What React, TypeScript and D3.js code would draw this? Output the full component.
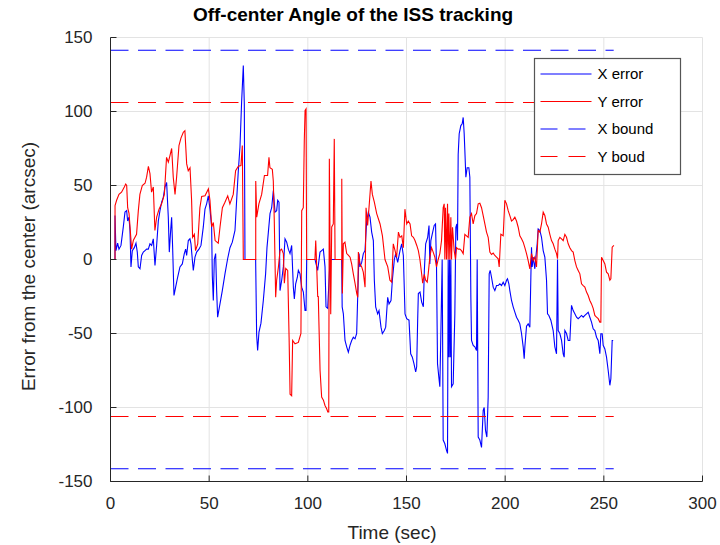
import React from "react";
import * as d3 from "d3";

// Off-center angle of the ISS tracking, [time (s), error (arcsec)]
const xError: [number, number][] = [
  [0, 0], [2.27, 0], [2.27, 29.7], [2.77, 6], [3.62, 11], [4.29, 7], [5.31, 9.5], [6.49, 22], [7.34, 32],
  [8.18, 33], [8.69, 26], [9.36, 28.6], [9.87, 19.6], [10.38, -5], [11.05, 6], [12.06, 8], [12.91, 11],
  [13.58, 5], [14.09, -5], [14.94, -6.3], [15.78, 2.7], [16.63, 5], [17.47, 6], [18.31, 7], [19.16, 7],
  [20.0, 10.6], [20.85, 9.5], [21.69, 14], [22.54, -4], [23.38, 9.5], [24.23, 26], [25.07, 33], [25.92, 38.7],
  [26.76, 42], [27.6, 49], [28.45, 52], [29.29, 28.6], [29.8, 5], [30.48, 19.6], [30.98, 28.6], [31.49, 8],
  [32.17, -24.3], [33.01, -18.7], [34.02, -12], [35.2, -5], [36.39, -3], [37.4, 4], [38.08, 7], [38.58, 2.7],
  [39.43, 12.8], [40.27, 14], [40.78, 10.6], [41.46, 0], [41.96, -7.4], [42.81, 1.6], [43.65, 5], [44.83, 7],
  [45.85, 9.5], [47.03, 22], [47.88, 34], [48.72, 37.6], [49.56, 43], [50.41, 34], [51.25, 22], [51.59, -11],
  [52.1, -27.7], [52.6, 0], [53.28, 4], [53.79, -21], [54.29, -39], [55.48, -30], [56.66, -21], [58.01, -9.7],
  [59.36, 0.5], [60.55, 8], [61.73, 11.7], [63.08, 19.6], [63.92, 40], [64.77, 60], [65.61, 76], [66.46, 107],
  [67.3, 131], [67.81, 105], [68.15, 0], [73.55, 0], [74.06, -51], [74.56, -61.5], [75.24, -49], [76.25, -43],
  [77.44, -27.7], [78.6, -9.7], [79.3, 8], [80.0, 18.5], [80.83, 31], [81.68, 35], [82.52, 46.6], [83.37, 32],
  [84.21, 33], [84.72, 40], [85.39, 38.7], [85.9, -21], [86.75, -14], [87.59, -5], [88.44, 14], [89.28, 11.7],
  [90.12, 7], [90.97, 4], [91.81, 9.5], [92.66, -18.7], [93.16, -26.6], [93.84, -16.4], [94.69, -12],
  [95.19, -7.4], [96.04, -9.7], [96.88, -18.7], [97.73, -22], [98.57, -34.5], [99.08, -34.5], [99.41, 0],
  [103.64, 0], [103.98, -2], [104.99, -7.4], [106.17, 5], [107.02, 6], [107.86, 7], [108.71, -5], [109.21, -32],
  [110.06, -33], [111.24, 0], [117.15, 0], [117.4, -32], [118.0, -36.7], [118.84, -54.7], [119.69, -59],
  [120.53, -62.6], [121.37, -58], [122.22, -54.7], [123.06, -52.5], [123.91, -53.6], [124.75, -50],
  [125.26, -25.5], [125.94, 4], [126.44, -5], [127.29, -2], [128.13, 4], [128.98, 6], [129.82, 26], [130.66, 32],
  [131.51, 28.6], [132.35, 18.5], [133.2, 12.8], [133.7, -14], [134.38, -32], [135.39, -36.7], [136.07, -34.5],
  [137.08, -45.7], [137.76, -50], [138.77, -48], [139.45, -45.7], [140.46, -25.5], [141.14, -30],
  [142.15, -27.7], [142.83, -14], [143.84, 0], [144.52, 4], [145.53, -2], [146.71, 6], [147.56, 10.6],
  [148.4, 2.7], [149.25, -36.7], [150.09, -40], [151.27, -41], [152.12, -63.7], [152.96, -66], [153.81, -70.5],
  [154.65, -76], [155.16, -72.5], [155.66, -41], [156.0, -23], [156.85, -22], [157.69, -28.8], [158.54, -32],
  [159.04, -7.4], [159.72, 10.6], [160.73, 15], [161.41, 23], [161.83, -3], [162.34, 12.8], [163.02, 17],
  [164.03, 23], [164.71, 24], [165.21, -5], [165.72, -70.5], [166.39, -79.5], [166.9, -86], [167.41, -50],
  [168.08, 0], [168.59, -122], [169.43, -124.5], [170.28, -129], [170.79, -131], [171.12, 0], [171.46, -66],
  [171.8, 0], [172.14, -66], [172.48, 0], [172.81, -86], [173.66, -84], [174.5, -36.7], [175.01, 21.8],
  [175.52, 24], [175.85, 12.8], [176.19, 71], [176.7, 85], [177.54, 90.5], [178.22, 91.7], [178.73, 96],
  [179.23, 85], [179.57, 73.6], [180.08, 55.6], [180.75, 62], [181.6, 62], [182.1, 55.6], [182.61, -25.5],
  [182.95, -54.7], [183.79, -58], [184.64, -59], [185.48, -61.5], [185.82, 0], [186.33, -120], [187.17, -122],
  [188.02, -127], [188.86, -102], [189.37, -100], [190.04, -115.5], [190.72, -120], [191.39, -93],
  [191.9, -9.7], [192.41, -7.4], [193.08, -12], [193.93, -18.7], [194.77, -21], [195.62, -17.6],
  [196.46, -17.6], [197.31, -16.4], [198.15, -17.6], [199.0, -15.3], [199.84, -17.6], [200.69, -14],
  [201.19, -13], [201.87, -16.4], [202.37, -21], [203.22, -27.7], [204.06, -32], [204.91, -35.6], [205.75, -39],
  [206.6, -41], [207.44, -43.5], [208.29, -50], [209.13, -59], [209.64, -67], [209.98, -59], [210.82, -45],
  [211.66, -43.5], [212.51, -45.7], [213.02, -12], [213.35, 8.3], [213.69, -5], [214.2, 1.6], [215.04, -6.3],
  [215.55, 1.6], [216.23, 10.6], [216.73, 20.7], [217.58, 19.6], [218.42, 15], [219.27, 6], [220.11, 1.6],
  [220.96, -14], [221.46, -36.7], [222.14, -37.8], [223.15, -41], [224.33, -48], [225.18, -59], [226.02, -63.7],
  [226.53, 0], [226.87, -48], [227.71, -50], [228.56, -54.7], [229.4, -63.7], [229.91, -66], [230.25, -48],
  [231.09, -50], [231.94, -54.7], [232.78, -54.7], [233.62, -31], [234.47, -34.5], [235.31, -36.7],
  [236.16, -39], [237.0, -40], [237.85, -39], [238.69, -37.8], [239.54, -39], [240.38, -37.8], [241.23, -36.7],
  [242.07, -35.6], [242.91, -39], [243.76, -42.3], [244.6, -46.8], [245.45, -48], [246.29, -52.5],
  [247.14, -54.7], [247.98, -63.7], [248.49, -50.2], [249.16, -50.2], [249.67, -58], [250.52, -60.4],
  [251.36, -66], [252.21, -75], [253.05, -85], [253.56, -80.6], [254.23, -54.7], [254.74, -54.7],
];

const yError: [number, number][] = [
  [0, 0], [2.3, 0], [2.3, 36.5], [3.1, 40], [4.3, 44], [5.6, 45.5], [7.0, 49], [7.7, 51], [8.2, 50], [8.7, 35],
  [9.4, 31], [9.9, 22], [10.7, 7], [11.6, 13], [13.2, 17], [14.1, 33], [14.9, 44], [16.1, 50], [17.5, 51.5],
  [18.3, 55.6], [19.2, 63], [20.0, 58], [20.8, 45.5], [21.7, 49], [22.5, 19.6], [23.4, 28.6], [24.6, 34],
  [25.9, 37.6], [27.3, 44], [28.4, 69], [29.3, 65.8], [30.1, 70], [31.0, 75], [31.8, 55.6], [32.7, 44],
  [33.5, 55.6], [34.7, 77], [35.7, 82], [36.9, 86], [37.7, 87], [38.6, 64.6], [39.4, 60], [40.3, 62], [41.1, 40],
  [41.6, 15], [42.5, 17], [43.1, 6], [44.2, 10.6], [45.3, 35], [46.2, 42.6], [47.9, 43], [49.6, 47.7], [50.4, 40],
  [51.3, 22], [52.1, 25], [53.0, 12.8], [54.6, 11], [55.5, 22], [56.7, 35], [58.0, 38.7], [59.4, 43],
  [60.5, 37.6], [62.2, 44], [63.4, 60], [64.8, 63], [66.1, 63.5], [66.8, 77], [67.3, 0], [73.6, 0], [73.6, 53],
  [74.1, 28.6], [75.2, 37.6], [76.6, 44], [78.0, 56.8], [79.6, 56.8], [80.3, 69], [80.8, 62], [82.0, 61],
  [82.5, 53], [83.0, 26], [83.7, -25.5], [84.2, -14], [85.1, -5], [85.9, 6], [86.7, 7], [87.6, 4], [88.1, -16],
  [88.8, -6], [89.8, -7.4], [90.5, -52.5], [91.0, -91], [91.8, -92], [92.3, -54.7], [93.5, -57], [95.2, -56],
  [96.5, -50], [96.9, 33], [97.7, 35], [98.2, 80], [98.6, 100.7], [99.1, 101.8], [99.4, 0], [103.6, 0],
  [104.0, 12.8], [104.5, -5], [105.0, -25], [105.3, -25], [106.2, -75], [107.0, -93], [107.9, -95],
  [108.7, -98.6], [109.6, -101], [110.1, -103], [110.6, -103], [110.9, 68], [111.2, 20], [111.6, -37],
  [112.1, 22], [112.9, 24], [113.4, 81.5], [113.8, 0], [117.2, 0], [117.2, 54.5], [117.5, -23], [118.0, 10.6],
  [118.8, 11.7], [119.7, 4], [120.5, 3], [121.4, 1.6], [122.2, -3], [123.1, -10], [123.9, -16], [124.8, -23],
  [125.3, -25.5], [125.6, 5], [126.4, -3], [127.3, -5], [128.1, -8.5], [129.0, -18.7], [129.5, 35], [130.3, 23],
  [131.0, 35], [132.0, 53], [132.7, 44], [133.7, 38.7], [134.9, 31], [136.6, 24], [137.8, 16], [139.1, 0],
  [140.5, -5], [141.6, -14], [142.5, -15.3], [143.3, 10.6], [144.2, 6], [145.0, 1.6], [145.9, 18.5], [146.7, 15],
  [147.6, 16], [148.4, 8], [149.2, 34], [150.1, 24], [150.9, 26], [151.8, 24], [152.6, 16], [153.5, 15],
  [154.3, 12.8], [155.2, 9.5], [156.0, 6], [156.8, 0], [157.7, -10], [158.2, -16], [159.0, -10], [159.7, -14],
  [160.5, -15.3], [161.0, -9.7], [161.83, 1.6], [162.68, 8], [163.52, 5], [164.37, 1.6], [165.21, -5],
  [166.06, 0], [166.9, 4], [167.75, 12.8], [168.59, 35], [169.1, 37.6], [169.43, 0], [169.77, 35], [170.28, 0],
  [170.79, 37.6], [171.12, 0], [171.46, 31], [171.97, 0], [172.48, 28.6], [172.81, 0], [173.32, 21.8],
  [174.16, 6], [174.84, 0], [175.35, 8], [176.19, 7], [177.04, 7], [177.88, 6], [178.73, 4], [179.57, 17],
  [180.41, 16], [181.26, 15], [182.1, 28.6], [182.95, 31], [183.79, 24], [184.64, 29.7], [185.48, 31],
  [186.33, 37.6], [187.17, 38], [188.02, 35], [188.86, 29.7], [189.71, 24], [190.55, 18.5], [191.39, 15],
  [192.24, 5], [193.08, 3.4], [193.93, 4.3], [194.77, 2.7], [195.62, 1.6], [196.46, 0.5], [196.97, -5],
  [197.81, 17], [199.0, 16], [199.84, 40], [200.69, 37.6], [201.53, 33], [202.37, 29.7], [203.22, 26],
  [204.06, 27], [204.91, 28.6], [205.75, 26], [206.6, 21.8], [207.44, 16], [208.29, 14], [209.13, 11.7],
  [209.98, 8], [210.82, 4], [211.66, -0.7], [212.51, -6.3], [213.35, 4], [214.2, -0.7], [215.04, 1.6],
  [215.89, -5], [216.73, 19.6], [217.58, 18.5], [218.42, 24], [219.27, 32], [220.11, 29.7], [220.96, 24],
  [221.8, 21.8], [222.64, 17], [223.49, 12.8], [224.33, 10.6], [225.18, 7], [226.02, 4], [226.53, 0.5],
  [226.87, 12.8], [227.71, 15], [228.56, 14], [229.4, 12.8], [230.25, 17], [231.09, 15], [231.94, 10.6],
  [232.78, 8], [233.62, 6], [234.47, 5], [235.31, -0.7], [236.16, -5], [237.0, -7.4], [237.85, -9.7],
  [238.69, -16.4], [239.54, -17.6], [240.38, -18.7], [241.23, -22], [242.07, -24.3], [242.91, -27.7],
  [243.76, -30], [244.6, -33], [245.45, -37.8], [246.29, -39], [247.14, -40], [247.98, -42.3], [248.49, -42.3],
  [248.83, 1.6], [249.67, -0.7], [250.52, -3], [251.36, -8.6], [252.21, -9.7], [253.05, -14], [253.56, -13],
  [254.23, 8.3], [255.08, 9.5],
];

const xBound = 141.4;
const yBound = 106.1;
const boundSpan = [0, 255];

const xTicks = [0, 50, 100, 150, 200, 250, 300];
const yTicks = [-150, -100, -50, 0, 50, 100, 150];

const legendItems = [
  { label: "X error", color: "#0000ff", dash: "" },
  { label: "Y error", color: "#ff0000", dash: "" },
  { label: "X bound", color: "#0000ff", dash: "17,11" },
  { label: "Y boud", color: "#ff0000", dash: "17,11" },
];

const FONT = "'Liberation Sans', Arial, Helvetica, sans-serif";

export default function App() {
  const width = 720;
  const height = 545;
  const x = d3.scaleLinear().domain([0, 300]).range([110.5, 702.5]);
  const y = d3.scaleLinear().domain([-150, 150]).range([481.5, 37.5]);

  const line = d3
    .line<[number, number]>()
    .x((d) => x(d[0]))
    .y((d) => y(d[1]));

  const axisColor = "#262626";
  const gridColor = "#e3e3e3";

  return (
    <svg
      width={width}
      height={height}
      style={{ position: "absolute", left: 0, top: 0, background: "#fff" }}
      fontFamily={FONT}
    >
      <rect width={width} height={height} fill="#fff" />

      {/* grid */}
      {xTicks.map((t) => (
        <line key={"gx" + t} x1={x(t)} x2={x(t)} y1={y(-150)} y2={y(150)} stroke={gridColor} />
      ))}
      {yTicks.map((t) => (
        <line key={"gy" + t} x1={x(0)} x2={x(300)} y1={y(t)} y2={y(t)} stroke={gridColor} />
      ))}

      {/* data */}
      <path d={line(xError) || ""} fill="none" stroke="#0000ff" strokeWidth={1.1} />
      <path d={line(yError) || ""} fill="none" stroke="#ff0000" strokeWidth={1.1} />
      {[xBound, -xBound].map((b, i) => (
        <line key={"xb" + i} x1={x(boundSpan[0])} x2={x(boundSpan[1])} y1={y(b)} y2={y(b)}
          stroke="#0000ff" strokeWidth={1.1} strokeDasharray="18,9.5" />
      ))}
      {[yBound, -yBound].map((b, i) => (
        <line key={"yb" + i} x1={x(boundSpan[0])} x2={x(boundSpan[1])} y1={y(b)} y2={y(b)}
          stroke="#ff0000" strokeWidth={1.1} strokeDasharray="18,9.5" />
      ))}

      {/* axes */}
      <line x1={x(0)} x2={x(0)} y1={y(-150)} y2={y(150)} stroke={axisColor} />
      <line x1={x(0)} x2={x(300)} y1={y(-150)} y2={y(-150)} stroke={axisColor} />
      {xTicks.map((t) => (
        <g key={"tx" + t}>
          <line x1={x(t)} x2={x(t)} y1={y(-150)} y2={y(-150) - 6} stroke={axisColor} />
          <text x={x(t)} y={y(-150) + 27} textAnchor="middle" fontSize={17} fill={axisColor}>
            {t}
          </text>
        </g>
      ))}
      {yTicks.map((t) => (
        <g key={"ty" + t}>
          <line x1={x(0)} x2={x(0) + 6} y1={y(t)} y2={y(t)} stroke={axisColor} />
          <text x={x(0) - 18} y={y(t) + 5} textAnchor="end" fontSize={17} fill={axisColor}>
            {t}
          </text>
        </g>
      ))}

      <text x={392} y={539} textAnchor="middle" fontSize={19} fill={axisColor}>
        Time (sec)
      </text>
      <text
        transform={`translate(35,${y(0) + 7}) rotate(-90)`}
        textAnchor="middle"
        fontSize={19}
        fill={axisColor}
      >
        Error from the center (arcsec)
      </text>
      <text x={353} y={21} textAnchor="middle" fontSize={19} fontWeight="bold" fill="#000">
        Off-center Angle of the ISS tracking
      </text>

      {/* legend */}
      <g transform="translate(534.5,58.5)">
        <rect width={146} height={116} fill="#fff" stroke="#555" strokeWidth={1.2} />
        {legendItems.map((d, i) => (
          <g key={d.label} transform={`translate(0,${15.5 + i * 27.5})`}>
            <line x1={6} x2={57} y1={0} y2={0} stroke={d.color} strokeWidth={1.1}
              strokeDasharray={d.dash || undefined} />
            <text x={63} y={5} fontSize={15} fill="#000">
              {d.label}
            </text>
          </g>
        ))}
      </g>
    </svg>
  );
}
